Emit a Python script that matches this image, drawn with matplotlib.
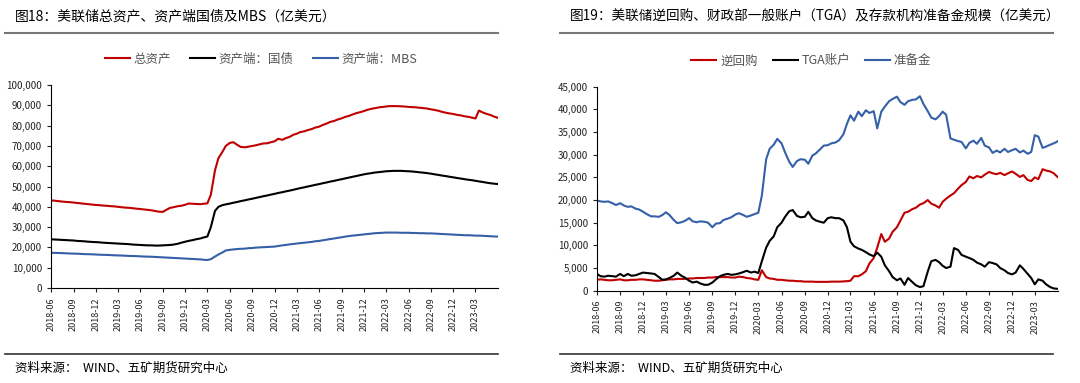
import pandas as pd
import matplotlib.pyplot as plt
import matplotlib.dates as mdates
from matplotlib.ticker import FuncFormatter

plt.rcParams['font.family'] = ['Noto Sans CJK SC', 'DejaVu Sans']

# 半月度数据（每月1日、15日），2018-06-01 至 2023-06-01，单位：亿美元
fechas = pd.date_range('2018-06-01', '2023-06-01', freq='SMS')

# --- 图18 ---
total_activos = [
    43200, 43000, 42800, 42600, 42400, 42300, 42100, 41900, 41700, 41500, 41300, 41100, 40900, 40800,
    40600, 40500, 40300, 40200, 40000, 39800, 39600, 39500, 39300, 39100, 38900, 38700,
    38500, 38300, 37900, 37600, 37500, 38500, 39500, 39800, 40300, 40500, 41000, 41600,
    41500, 41400, 41300, 41500, 41700, 46000, 58000, 64000, 67000, 70000, 71500, 71800,
    70500, 69500, 69300, 69600, 70000, 70300, 70800, 71200, 71300, 71800, 72300, 73500,
    73000, 73800, 74500, 75500, 76000, 76800, 77200, 77800, 78300, 79000, 79500, 80300,
    81000, 81800, 82300, 83000, 83600, 84300, 84800, 85500, 86200, 86600, 87200, 87800,
    88300, 88600, 89000, 89200, 89400, 89600, 89600, 89600, 89500, 89400, 89200, 89100,
    89000, 88800, 88600, 88400, 88000, 87700, 87300, 86800, 86300, 86000, 85700, 85300,
    85000, 84600, 84300, 83900, 83500, 87400, 86400, 85800, 85200, 84500, 83800]
tesoro = [
    24000, 23900, 23800, 23700, 23600, 23500, 23400, 23200, 23100, 23000, 22800, 22700, 22600, 22500,
    22300, 22200, 22100, 22000, 21900, 21800, 21700, 21600, 21400, 21300, 21200, 21100,
    21000, 21000, 20900, 20900, 21000, 21100, 21200, 21400, 21800, 22300, 22800, 23200,
    23600, 24000, 24400, 24900, 25400, 30000, 38000, 40000, 40800, 41200, 41600, 42000,
    42400, 42800, 43200, 43600, 44000, 44400, 44800, 45200, 45600, 46000, 46400, 46800,
    47200, 47600, 48000, 48400, 48800, 49200, 49600, 50000, 50400, 50800, 51200, 51600,
    52000, 52400, 52800, 53200, 53600, 54000, 54400, 54800, 55200, 55600, 56000, 56300,
    56600, 56900, 57100, 57300, 57500, 57600, 57700, 57700, 57700, 57600, 57500, 57400,
    57200, 57000, 56800, 56600, 56300, 56000, 55700, 55400, 55100, 54800, 54500, 54200,
    53900, 53600, 53300, 53100, 52800, 52500, 52200, 51900, 51600, 51400, 51200]
mbs = [
    17400, 17300, 17250, 17200, 17100, 17000, 16950, 16900, 16800, 16700, 16650, 16600, 16500, 16400,
    16350, 16300, 16200, 16100, 16050, 16000, 15900, 15800, 15750, 15700, 15600, 15500,
    15450, 15400, 15300, 15200, 15100, 15000, 14900, 14800, 14700, 14600, 14500, 14400,
    14300, 14200, 14100, 13900, 13800, 14200, 15500, 16500, 17500, 18500, 18800, 19000,
    19200, 19300, 19400, 19600, 19700, 19900, 20000, 20100, 20200, 20300, 20400, 20700,
    21000, 21200, 21500, 21700, 21900, 22100, 22300, 22500, 22700, 23000, 23200, 23500,
    23800, 24100, 24400, 24700, 25000, 25300, 25600, 25800, 26000, 26200, 26400, 26600,
    26800, 27000, 27100, 27200, 27300, 27300, 27300, 27300, 27200, 27200, 27200, 27100,
    27100, 27000, 27000, 26900, 26900, 26800, 26700, 26600, 26500, 26400, 26300, 26200,
    26100, 26000, 26000, 25900, 25800, 25800, 25700, 25600, 25500, 25400, 25300]

# --- 图19 ---
repo_inverso = [
    2400, 2500, 2400, 2300, 2300, 2400, 2500, 2300, 2300, 2400, 2400, 2500, 2500, 2400,
    2300, 2200, 2200, 2300, 2400, 2500, 2500, 2600, 2600, 2600, 2700, 2700,
    2800, 2800, 2800, 2900, 2900, 3000, 3000, 3000, 3000, 2900, 2900, 3100,
    3000, 2800, 2700, 2500, 2400, 4500, 3000, 2700, 2600, 2400, 2400, 2300,
    2200, 2200, 2100, 2100, 2000, 2000, 2000, 1950, 1950, 1950, 1950, 2000,
    2000, 2000, 2050, 2100, 2200, 3200, 3200, 3600, 4300, 6000, 7200, 9500,
    12500, 10800, 11500, 13000, 14000, 15500, 17200, 17400, 18000, 18300, 19000, 19300,
    20000, 19200, 18800, 18300, 19600, 20300, 21000, 21500, 22500, 23300, 24000, 25200,
    24800, 25300, 25000, 25600, 26200, 25900, 25700, 26000, 25500, 25900, 26300, 25800,
    25100, 25500, 24400, 24200, 25000, 24600, 26800, 26500, 26300, 25900, 25000]
tga = [
    3700, 3200, 3100, 3300, 3200, 3100, 3700, 3200, 3700, 3300, 3400, 3700, 4000, 3900,
    3800, 3700, 3000, 2400, 2500, 2800, 3300, 4000, 3300, 2900, 2200, 1800,
    2000, 1600, 1300, 1300, 1800, 2500, 3200, 3500, 3700, 3500, 3600, 3800,
    4100, 4400, 4000, 4200, 3900, 6500, 9500, 11000, 12000, 14000, 15000, 16300,
    17500, 17800, 16500, 16200, 16300, 17400, 16000, 15500, 15200, 15000, 16000, 16200,
    16000, 16000, 15500, 14000, 10800, 9800, 9300, 9000, 8500, 8000, 7600, 8400,
    7500, 5600, 4300, 3000, 2300, 2700, 1300, 2800, 1900, 1200, 800, 1000,
    4200, 6500, 6800, 6300, 5500, 5000, 5300, 9400, 9000, 7900, 7500, 7200,
    6800, 6200, 5800, 5300, 6300, 6100, 5800, 5000, 4500, 3900, 3600, 4000,
    5600, 4800, 3700, 2800, 1400, 2500, 2200, 1400, 800, 500, 400]
reservas = [
    19900, 19700, 19600, 19700, 19300, 18900, 19300, 18800, 18500, 18600, 18100, 17900, 17400, 16900,
    16400, 16400, 16300, 16700, 17300, 16700, 15600, 14900, 15100, 15400, 16000, 15300,
    15100, 15300, 15200, 15000, 14000, 14800, 14900, 15600, 15900, 16200, 16800, 17100,
    16700, 16300, 16600, 16900, 17200, 21000, 29000, 31300, 32200, 33500, 32500, 30500,
    28500, 27300, 28600, 29000, 28900, 28000, 29800, 30300, 31200, 32000, 32100, 32500,
    32700, 33200, 34500, 36800, 38700, 37500, 39500, 38500, 39800, 39200, 39600, 35800,
    39500, 40600, 41800, 42300, 42800, 41600, 41000, 41800, 42100, 42200, 42900, 41200,
    39600, 38200, 37800, 38500, 39500, 38800, 33600, 33300, 33000, 32800, 31400, 32600,
    33100, 32400, 33700, 32000, 31600, 30400, 30900, 30500, 31300, 30600, 31000, 31300,
    30500, 30900, 30200, 30600, 34300, 34000, 31500, 31800, 32200, 32500, 33000]

ROJO = '#C00000'
AZUL = '#3560A8'

fig = plt.figure(figsize=(10.8, 3.83), dpi=100)
ax1 = fig.add_axes([51 / 1080, 1 - 288 / 383, (498 - 51) / 1080, (288 - 85) / 383])
ax2 = fig.add_axes([597 / 1080, 1 - 290.7 / 383, (1058 - 597) / 1080, (290.7 - 86.7) / 383])

ax1.plot(fechas, total_activos, color=ROJO, lw=1.5, label='总资产')
ax1.plot(fechas, tesoro, color='black', lw=1.5, label='资产端：国债')
ax1.plot(fechas, mbs, color=AZUL, lw=1.5, label='资产端：MBS')
ax1.set_ylim(0, 100000)
ax1.set_yticks(range(0, 100001, 10000))

ax2.plot(fechas, repo_inverso, color=ROJO, lw=1.5, label='逆回购')
ax2.plot(fechas, tga, color='black', lw=1.5, label='TGA账户')
ax2.plot(fechas, reservas, color=AZUL, lw=1.5, label='准备金')
ax2.set_ylim(0, 45000)
ax2.set_yticks(range(0, 45001, 5000))

ticks = pd.date_range('2018-06-01', '2023-03-01', freq='QS-MAR')
for ax in (ax1, ax2):
    ax.set_xlim(fechas[0], fechas[-1])
    ax.set_xticks(ticks)
    ax.xaxis.set_major_formatter(mdates.DateFormatter('%Y-%m'))
    ax.yaxis.set_major_formatter(FuncFormatter(lambda v, p: f'{int(v):,}'))
    ax.spines['top'].set_visible(False)
    ax.spines['right'].set_visible(False)
    ax.tick_params(axis='x', labelrotation=90, labelsize=6.5, length=3, colors='#222222')
    ax.tick_params(axis='y', labelsize=7, length=3, colors='#222222')

ax1.legend(loc='lower center', bbox_to_anchor=(0.47, 1.04), ncol=3, frameon=False,
           fontsize=9, handlelength=2.0, handletextpad=0.3, columnspacing=1.5,
           labelcolor='#555555')
ax2.legend(loc='lower center', bbox_to_anchor=(0.465, 1.04), ncol=3, frameon=False,
           fontsize=9, handlelength=2.0, handletextpad=0.3, columnspacing=1.2,
           labelcolor='#555555')

# Títulos, líneas separadoras y fuente
fig.text(15 / 1080, 1 - 16 / 383, '图18：美联储总资产、资产端国债及MBS（亿美元）', fontsize=10, va='center')
fig.text(570 / 1080, 1 - 16 / 383, '图19：美联储逆回购、财政部一般账户（TGA）及存款机构准备金规模（亿美元）',
         fontsize=9.8, va='center')
fig.add_artist(plt.Line2D([5 / 1080, 498 / 1080], [1 - 33 / 383] * 2, color='#777777', lw=1.5))
fig.add_artist(plt.Line2D([560 / 1080, 1053 / 1080], [1 - 33 / 383] * 2, color='#777777', lw=1.5))
fig.add_artist(plt.Line2D([5 / 1080, 498 / 1080], [1 - 354 / 383] * 2, color='#333333', lw=1.2))
fig.add_artist(plt.Line2D([560 / 1080, 1053 / 1080], [1 - 354 / 383] * 2, color='#333333', lw=1.2))
fig.text(15 / 1080, 1 - 368 / 383, '资料来源：  WIND、五矿期货研究中心', fontsize=9, va='center')
fig.text(570 / 1080, 1 - 368 / 383, '资料来源：  WIND、五矿期货研究中心', fontsize=9, va='center')

fig.savefig('out.png', dpi=100)
